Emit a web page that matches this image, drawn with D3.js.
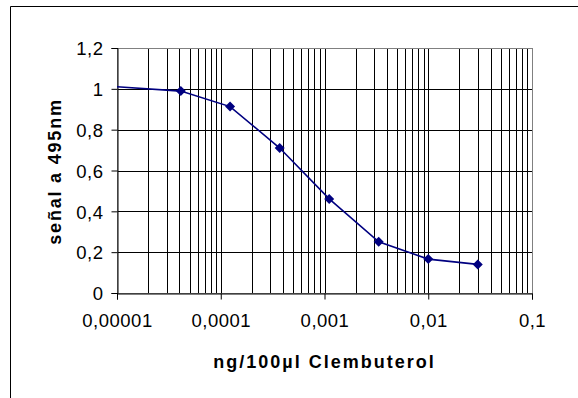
<!DOCTYPE html>
<html>
<head>
<meta charset="utf-8">
<script src="https://cdn.jsdelivr.net/npm/d3@7/dist/d3.min.js"></script>
<style>
  html, body { margin: 0; background: #fff; overflow: hidden; }
  svg { display: block; font-family: "Liberation Sans", Arial, sans-serif; }
</style>
</head>
<body>
<svg id="chart" width="578" height="398"></svg>
<script>
// concentration (ng/100µl) and signal at 495nm
const concentrations = [0.00001, 0.0000412, 0.000123, 0.00037, 0.00111, 0.00333, 0.01, 0.03];
const signals = [1.01, 0.989, 0.913, 0.71, 0.461, 0.251, 0.166, 0.14];
const showMarker = [false, true, true, true, true, true, true, true];
const xTickValues = [0.00001, 0.0001, 0.001, 0.01, 0.1];
const xTickLabels = ["0,00001", "0,0001", "0,001", "0,01", "0,1"];
const yTickValues = [0, 0.2, 0.4, 0.6, 0.8, 1, 1.2];
const yTickLabels = ["0", "0,2", "0,4", "0,6", "0,8", "1", "1,2"];

const svg = d3.select("#chart");

// outer chart frame: only the top and left edges fall inside the picture
svg.append("path")
    .attr("d", "M10.5,398V6.5H578")
    .attr("fill", "none").attr("stroke", "#000");

const margin = { top: 48, right: 46, bottom: 105, left: 117 },
    width = 578 - margin.left - margin.right,
    height = 398 - margin.top - margin.bottom,
    g = svg.append("g").attr("transform", "translate(" + margin.left + "," + margin.top + ")");

const x = d3.scaleLog().domain([0.00001, 0.1]).range([0, width]);
const y = d3.scaleLinear().domain([0, 1.2]).range([height, 0]);

// vertical grid, major and minor
g.append("g")
    .selectAll("line")
    .data(x.ticks())
    .enter().append("line")
    .attr("x1", d => Math.round(x(d)) + 0.5)
    .attr("x2", d => Math.round(x(d)) + 0.5)
    .attr("y1", 0).attr("y2", height)
    .attr("stroke", "#000");

// horizontal grid
g.append("g")
    .selectAll("line")
    .data(yTickValues)
    .enter().append("line")
    .attr("x1", 0).attr("x2", width)
    .attr("y1", d => Math.round(y(d)) + 0.5)
    .attr("y2", d => Math.round(y(d)) + 0.5)
    .attr("stroke", "#000");

// plot area border
g.append("rect")
    .attr("x", 0.5).attr("y", 0.5)
    .attr("width", width).attr("height", height)
    .attr("fill", "none").attr("stroke", "#808080");

// axes
const xAxis = d3.axisBottom(x)
    .tickValues(xTickValues)
    .tickSize(6)
    .tickFormat((d, i) => xTickLabels[i]);
const yAxis = d3.axisLeft(y)
    .tickValues(yTickValues)
    .tickSize(6)
    .tickFormat((d, i) => yTickLabels[i]);

const gx = g.append("g")
    .attr("transform", "translate(0," + (Math.round(height) + 0.5) + ")")
    .call(xAxis);
const gy = g.append("g")
    .attr("transform", "translate(0.5,0)")
    .call(yAxis);

[gx, gy].forEach(a => {
    a.select(".domain").attr("stroke", "#000");
    a.selectAll(".tick line").attr("stroke", "#000");
    a.selectAll(".tick text")
        .attr("font-size", 18.5)
        .attr("letter-spacing", "0.5px")
        .attr("fill", "#000")
        .attr("font-family", "Liberation Sans, Arial, sans-serif");
});
gx.selectAll(".tick text").attr("dy", "1.35em");
gy.selectAll(".tick text").attr("x", -14).attr("dy", "0.36em");

// axis titles
g.append("text")
    .attr("x", width / 2)
    .attr("y", height + 75)
    .attr("text-anchor", "middle")
    .attr("font-size", 18)
    .attr("font-weight", "bold")
    .attr("letter-spacing", "2px")
    .text("ng/100µl Clembuterol");

g.append("text")
    .attr("transform", "translate(-56," + (height / 2 + 1) + ") rotate(-90)")
    .attr("text-anchor", "middle")
    .attr("font-size", 18)
    .attr("font-weight", "bold")
    .attr("letter-spacing", "1.8px")
    .text("señal a 495nm");

// series line
const points = concentrations.map((c, i) => ({ c: c, v: signals[i], marker: showMarker[i] }));
g.append("path")
    .datum(points)
    .attr("fill", "none")
    .attr("stroke", "#000080")
    .attr("stroke-width", 1.6)
    .attr("d", d3.line().x(d => x(d.c)).y(d => y(d.v)));

// diamond markers
g.append("g")
    .selectAll("path")
    .data(points.filter(p => p.marker))
    .enter().append("path")
    .attr("transform", d => "translate(" + x(d.c) + "," + y(d.v) + ")")
    .attr("d", "M0,-5L5,0L0,5L-5,0Z")
    .attr("fill", "#000080");
</script>
</body>
</html>
